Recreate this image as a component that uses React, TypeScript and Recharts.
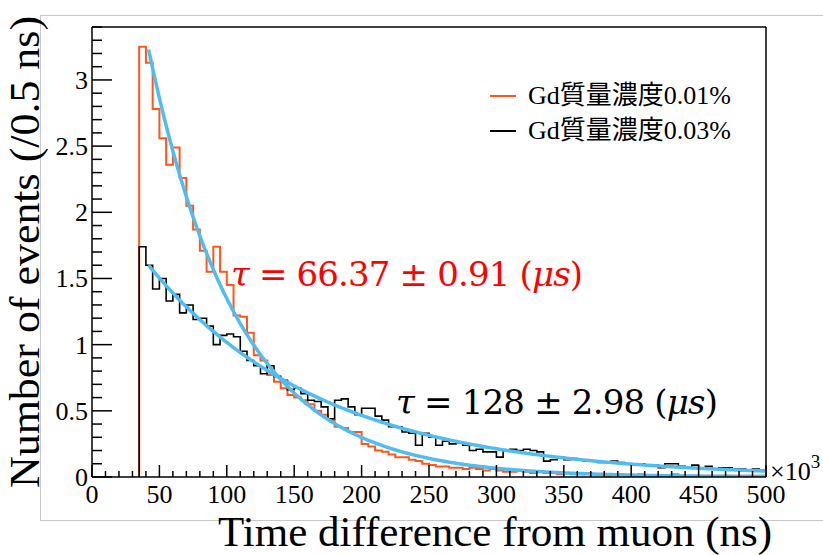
import { ComposedChart, Line, XAxis, YAxis, ReferenceLine, Legend } from "recharts";

// histogram binning (x in units of 10^3 ns)
const binStart = 35;
const binWidth = 5;

// Gd 0.01% sample, counts per bin starting at binStart
const gd001Counts = [
  3.25, 3.13, 2.78, 2.56, 2.36, 2.49, 2.26, 2.05, 1.87, 1.71,
  1.55, 1.74, 1.55, 1.45, 1.22, 1.21, 1.09, 0.92, 0.88, 0.77,
  0.72, 0.67, 0.62, 0.6, 0.58, 0.55, 0.5, 0.47, 0.43, 0.38,
  0.37, 0.34, 0.34, 0.25, 0.23, 0.2, 0.19, 0.17, 0.15, 0.15,
  0.13, 0.12, 0.1, 0.09, 0.08, 0.08, 0.07, 0.07, 0.06, 0.07,
  0.06, 0.05, 0.06, 0.05, 0.04, 0.04, 0.05, 0.04, 0.03, 0.04,
  0.03, 0.03, 0.02, 0.03, 0.02, 0.02, 0.03, 0.02, 0.02, 0.01,
  0.02, 0.02, 0.01, 0.01, 0.02, 0.01, 0.01, 0.01, 0.01, 0.02,
  0.01, 0.01, 0.01, 0.01, 0.01, 0.01, 0.01, 0.01, 0.01, 0.01,
  0.01, 0.01, 0.01,
];

// Gd 0.03% sample
const gd003Counts = [
  1.74, 1.6, 1.42, 1.5, 1.33, 1.38, 1.24, 1.3, 1.19, 1.2,
  1.14, 1.0, 1.07, 1.08, 1.06, 0.95, 0.88, 0.84, 0.78, 0.84,
  0.76, 0.73, 0.66, 0.67, 0.63, 0.58, 0.57, 0.53, 0.44, 0.58,
  0.59, 0.53, 0.47, 0.52, 0.52, 0.46, 0.43, 0.38, 0.38, 0.34,
  0.33, 0.24, 0.33, 0.3, 0.24, 0.27, 0.25, 0.26, 0.24, 0.2,
  0.21, 0.19, 0.19, 0.15, 0.2, 0.21, 0.2, 0.21, 0.2, 0.19,
  0.12, 0.13, 0.15, 0.13, 0.14, 0.13, 0.12, 0.12, 0.11, 0.11,
  0.12, 0.11, 0.1, 0.1, 0.1, 0.09, 0.09, 0.07, 0.1, 0.1,
  0.08, 0.07, 0.09, 0.07, 0.08, 0.06, 0.07, 0.07, 0.06, 0.06,
  0.05, 0.06, 0.05,
];

// exponential fits: amplitude at fitFrom, lifetime tau
const fitFrom = 42;
const fitTo = 500;
const fit001 = { amp: 3.23, tau: 66.37, err: 0.91 };
const fit003 = { amp: 1.6, tau: 128, err: 2.98 };

const legendNames = ["Gd質量濃度0.01%", "Gd質量濃度0.03%"];

const xMajorTicks = [0, 50, 100, 150, 200, 250, 300, 350, 400, 450, 500];
const yMajorTicks = [0, 0.5, 1, 1.5, 2, 2.5, 3];
const xMax = 500;
const yMax = 3.4;

const xTicks = Array.from({ length: xMax / 10 + 1 }, (_, i) => i * 10);
const yTicks = Array.from({ length: Math.round(yMax * 10) + 1 }, (_, i) => i / 10);

const ORANGE = "#ff5719";
const FIT = "#4fbdf0";
const SERIF = "'Liberation Serif', 'Times New Roman', serif";
const MATH = "'DejaVu Serif', serif";

function toSteps(counts: number[]) {
  const pts = [{ t: binStart, v: 0 }];
  counts.forEach((c, i) => pts.push({ t: binStart + i * binWidth, v: c }));
  pts.push({ t: binStart + counts.length * binWidth, v: counts[counts.length - 1] });
  return pts;
}

function fitCurve(f: { amp: number; tau: number }) {
  const pts: { t: number; v: number }[] = [];
  for (let t = fitFrom; t <= fitTo; t += 2) {
    pts.push({ t, v: f.amp * Math.exp(-(t - fitFrom) / f.tau) });
  }
  return pts;
}

const gd001Steps = toSteps(gd001Counts);
const gd003Steps = toSteps(gd003Counts);
const gd001Fit = fitCurve(fit001);
const gd003Fit = fitCurve(fit003);

function XTick({ x, y, payload }: any) {
  const major = xMajorTicks.includes(payload.value);
  return (
    <g>
      <line x1={x} x2={x} y1={y} y2={y - (major ? 12 : 6)} stroke="#000" strokeWidth={1.5} />
      {major && (
        <text x={x} y={y + 26} textAnchor="middle" fontSize={26} fontFamily={SERIF} fill="#000">
          {payload.value}
        </text>
      )}
    </g>
  );
}

function YTick({ x, y, payload }: any) {
  const v = payload.value as number;
  const major = yMajorTicks.some((m) => Math.abs(m - v) < 1e-6);
  return (
    <g>
      <line x1={x} x2={x + (major ? 20 : 10)} y1={y} y2={y} stroke="#000" strokeWidth={1.5} />
      {major && (
        <text x={x - 4} y={y + 9} textAnchor="end" fontSize={26} fontFamily={SERIF} fill="#000">
          {v}
        </text>
      )}
    </g>
  );
}

function LegendBox({ payload }: any) {
  const items = (payload ?? []).filter((p: any) => legendNames.includes(p.value));
  return (
    <div style={{ fontFamily: "'Liberation Serif', 'Noto Sans CJK JP', serif", fontSize: 26, lineHeight: "35px", color: "#000" }}>
      {items.map((p: any) => (
        <div key={p.value} style={{ display: "flex", alignItems: "center" }}>
          <span style={{ display: "inline-block", width: 26, borderTop: `2px solid ${p.color}`, marginRight: 12 }} />
          <span>{p.value}</span>
        </div>
      ))}
    </div>
  );
}

export default function App() {
  return (
    <div style={{ position: "absolute", left: 0, top: 0, width: 823, height: 555, background: "#fff", overflow: "hidden" }}>
      <div
        style={{
          position: "absolute",
          left: 40,
          top: 15,
          width: 800,
          height: 504,
          borderLeft: "1px solid #c8c8c8",
          borderTop: "1px solid #c8c8c8",
          borderBottom: "1px solid #c8c8c8",
        }}
      />
      <div style={{ position: "absolute", left: 0, top: 0 }}>
        <ComposedChart width={823} height={555} margin={{ top: 27, right: 57, bottom: 48, left: 40 }}>
          <XAxis
            type="number"
            dataKey="t"
            domain={[0, xMax]}
            ticks={xTicks}
            interval={0}
            tickSize={0}
            tickMargin={0}
            tickLine={false}
            tick={(p: any) => <XTick {...p} />}
            height={30}
            axisLine={{ stroke: "#000", strokeWidth: 1.5 }}
            allowDataOverflow
          />
          <YAxis
            type="number"
            dataKey="v"
            domain={[0, yMax]}
            ticks={yTicks}
            interval={0}
            tickSize={0}
            tickMargin={0}
            tickLine={false}
            tick={(p: any) => <YTick {...p} />}
            width={52}
            axisLine={{ stroke: "#000", strokeWidth: 1.5 }}
            allowDataOverflow
          />
          <ReferenceLine y={yMax} stroke="#000" strokeWidth={1.5} />
          <ReferenceLine x={xMax} stroke="#000" strokeWidth={1.5} />
          <Legend
            layout="horizontal"
            verticalAlign="middle"
            content={(p: any) => <LegendBox {...p} />}
            wrapperStyle={{ position: "absolute", left: 490, top: 78, width: 260, height: 70 }}
          />
          <Line
            data={gd001Steps}
            dataKey="v"
            type="stepAfter"
            name={legendNames[0]}
            stroke={ORANGE}
            strokeWidth={2}
            dot={false}
            isAnimationActive={false}
          />
          <Line
            data={gd003Steps}
            dataKey="v"
            type="stepAfter"
            name={legendNames[1]}
            stroke="#000"
            strokeWidth={1.6}
            dot={false}
            isAnimationActive={false}
          />
          <Line data={gd001Fit} dataKey="v" type="monotone" stroke={FIT} strokeWidth={3.5} dot={false} legendType="none" isAnimationActive={false} />
          <Line data={gd003Fit} dataKey="v" type="monotone" stroke={FIT} strokeWidth={3.5} dot={false} legendType="none" isAnimationActive={false} />
        </ComposedChart>
      </div>
      <svg width={823} height={555} style={{ position: "absolute", left: 0, top: 0, pointerEvents: "none" }}>
        <text
          transform="translate(39,252) rotate(-90)"
          textAnchor="middle"
          fontSize={42}
          fontFamily={SERIF}
          fill="#000"
          textLength={472}
          lengthAdjust="spacingAndGlyphs"
        >
          Number of events (/0.5 ns)
        </text>
        <text x={218} y={546} fontSize={43} fontFamily={SERIF} fill="#000">
          Time difference from muon (ns)
        </text>
        <text x={770} y={480} fontSize={26} fontFamily={SERIF} fill="#000">
          ×10<tspan dy={-12} fontSize={19}>3</tspan>
        </text>
        <text x={231} y={286} fontSize={34} fontFamily={MATH} fill="#ff0000" textLength={352} lengthAdjust="spacing">
          <tspan fontStyle="italic">τ</tspan> = {fit001.tau.toFixed(2)} ± {fit001.err.toFixed(2)} (<tspan fontStyle="italic">μs</tspan>)
        </text>
        <text x={396} y={414} fontSize={34} fontFamily={MATH} fill="#000" textLength={322} lengthAdjust="spacing">
          <tspan fontStyle="italic">τ</tspan> = {fit003.tau} ± {fit003.err.toFixed(2)} (<tspan fontStyle="italic">μs</tspan>)
        </text>
      </svg>
    </div>
  );
}
